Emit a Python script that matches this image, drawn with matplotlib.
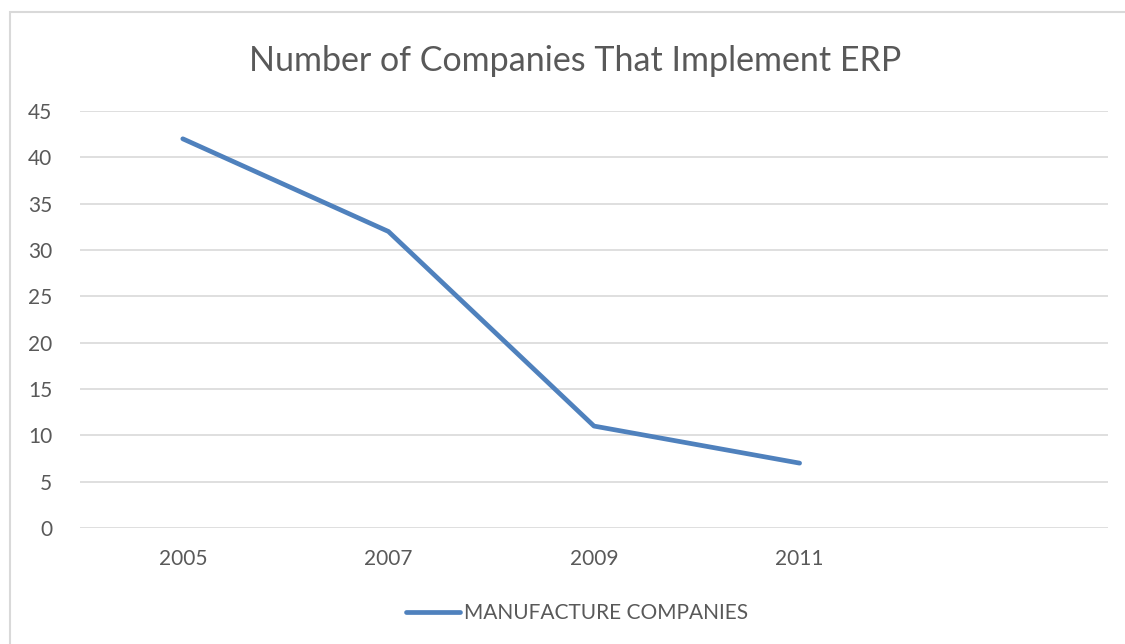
import matplotlib.pyplot as plt
from matplotlib.patches import Rectangle
from matplotlib.lines import Line2D

years = ['2005', '2007', '2009', '2011', '']
companies = [42, 32, 11, 7]
series_name = 'MANUFACTURE COMPANIES'
title = 'Number of Companies That Implement ERP'

plt.rcParams['font.family'] = ['Lato', 'DejaVu Sans']

W, H = 1125, 644
fig = plt.figure(figsize=(W / 100, H / 100), dpi=100)

# chart frame (only left/top visible in the crop)
fig.patches.append(Rectangle((10 / W, -0.1), 1.2, 1 - 12 / H + 0.1,
                             transform=fig.transFigure, fill=False,
                             edgecolor='#D9D9D9', linewidth=1.5))

ax = fig.add_axes([80 / W, 1 - 528 / H, (1108 - 80) / W, (528 - 111) / H])
x = list(range(len(companies)))
ax.plot(x, companies, color='#4F81BD', linewidth=3.4, solid_capstyle='round')

ax.set_xlim(-0.5, len(years) - 0.5)
ax.set_ylim(0, 45)
ax.set_yticks(range(0, 50, 5))
ax.set_xticks(range(len(years)))
ax.set_xticklabels(years)
ax.grid(axis='y', color='#D9D9D9', linewidth=1.2)
ax.set_axisbelow(True)
for s in ax.spines.values():
    s.set_visible(False)
ax.tick_params(length=0, labelsize=15, labelcolor='#595959')
ax.tick_params(axis='y', pad=20)
ax.tick_params(axis='x', pad=15)

fig.text(575 / W, 1 - 61 / H, title, ha='center', va='center',
         fontsize=24.5, color='#595959')

handle = Line2D([], [], color='#4F81BD', linewidth=3.4, solid_capstyle='round')
fig.legend([handle], [series_name], loc='center', bbox_to_anchor=(577 / W, 1 - 613 / H),
           frameon=False, fontsize=15, labelcolor='#595959',
           handlelength=2.6, handletextpad=0.15)

fig.savefig('out.png', dpi=100)
